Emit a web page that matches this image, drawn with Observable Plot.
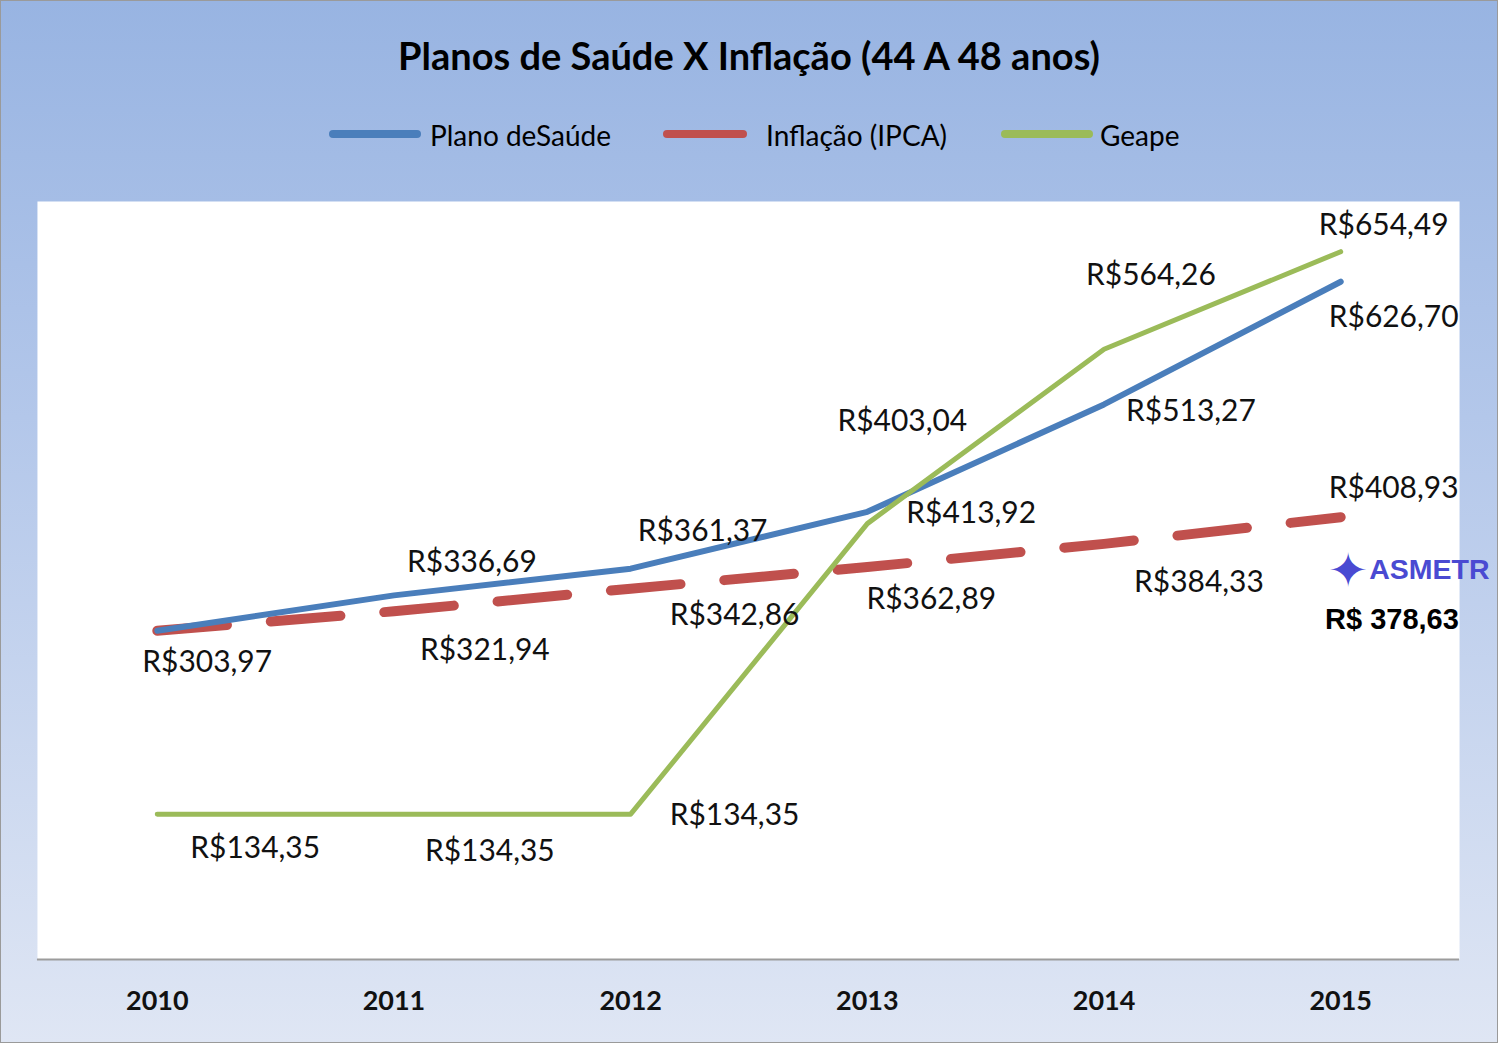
<!DOCTYPE html>
<html>
<head>
<meta charset="utf-8">
<script src="https://cdn.jsdelivr.net/npm/d3@7"></script>
<script src="https://cdn.jsdelivr.net/npm/@observablehq/plot@0.6"></script>
<style>
  html, body { margin: 0; padding: 0; background: #fff; }
  #chart {
    position: relative; box-sizing: border-box;
    width: 1498px; height: 1043px;
    border: 1px solid #9a9a9a;
    background: linear-gradient(to bottom, #98b4e2 0%, #b3c7ea 40%, #dfe6f4 100%);
    font-family: Lato, "Open Sans", sans-serif;
    overflow: hidden;
  }
  #title {
    position: absolute; left: 0; right: 0; top: 29px; line-height: 50px;
    text-align: center; font-weight: bold; font-size: 38px; color: #000;
  }
  .lg-line { position: absolute; height: 8px; border-radius: 4px; top: 129px; }
  .lg-text { position: absolute; top: 116px; line-height: 36px; font-size: 28px; color: #000; }
  #plot { position: absolute; left: -1px; top: 189px; }
  #logo { position: absolute; left: 1327px; top: 541px; font-family: "Liberation Sans", Arial, sans-serif; font-weight: bold; font-size: 28.5px; color: #4a4ad2; white-space: nowrap; }
  #logo .star { font-family: "DejaVu Sans"; font-size: 48px; vertical-align: -8px; margin-right: 1px; }
  #logoval { position: absolute; left: 1324px; top: 602px; font-family: "Liberation Sans", Arial, sans-serif; font-weight: bold; font-size: 29px; color: #000; }
</style>
</head>
<body>
<div id="chart">
  <div id="title"></div>
  <div id="legend"></div>
  <div id="plot"></div>
  <div id="logo"><span class="star">✦</span><span id="logotext"></span></div>
  <div id="logoval"></div>
</div>
<script>
const title = "Planos de Saúde X Inflação (44 A 48 anos)";
const years = ["2010", "2011", "2012", "2013", "2014", "2015"];
const seriesNames = ["Plano deSaúde", "Inflação (IPCA)", "Geape"];
const planoSaude = [303.97, 336.69, 361.37, 413.92, 513.27, 626.70];
const inflacao   = [303.97, 321.94, 342.86, 362.89, 384.33, 408.93];
const geape      = [134.35, 134.35, 134.35, 403.04, 564.26, 654.49];
const logoText = "ASMETR";
const logoValue = "R$ 378,63";

const colors = ["#4a7ebb", "#c0504d", "#9bbb59"];

// label offsets (pixels from point), null = no label
const planoOffsets = [null, [78, -33], [72, -37], [104, 2], [87, 7], [53, 36]];
const inflOffsets  = [[50, 32], [91, 39], [104, 27], [64, 32], [95, 39], [53, -29]];
const geapeOffsets = [[98, 34], [96, 37], [104, 1], [35, -102], [47, -74], [43, -26]];

document.getElementById("title").textContent = title;
document.getElementById("logotext").textContent = logoText;
document.getElementById("logoval").textContent = logoValue;

// Legend
const legend = document.getElementById("legend");
const lgPos = [[328, 92, 429], [662, 84, 765], [1000, 92, 1099]];
seriesNames.forEach((n, i) => {
  const l = document.createElement("div");
  l.className = "lg-line";
  l.style.left = lgPos[i][0] + "px"; l.style.width = lgPos[i][1] + "px";
  l.style.background = colors[i];
  legend.appendChild(l);
  const t = document.createElement("div");
  t.className = "lg-text"; t.style.left = lgPos[i][2] + "px";
  t.textContent = n;
  legend.appendChild(t);
});

const mk = (vals) => years.map((y, i) => ({year: y, value: vals[i]}));
const dPlano = mk(planoSaude), dInfl = mk(inflacao), dGeape = mk(geape);
const fmt = v => "R$" + v.toFixed(2).replace(".", ",");

const labelMarks = [];
[[dPlano, planoOffsets], [dInfl, inflOffsets], [dGeape, geapeOffsets]].forEach(([d, offs]) => {
  d.forEach((row, i) => {
    if (!offs[i]) return;
    labelMarks.push(Plot.text([row], {
      x: "year", y: "value", text: r => fmt(r.value),
      dx: offs[i][0], dy: offs[i][1],
      fontSize: 30, fill: "#111", textAnchor: "middle"
    }));
  });
});

const plot = Plot.plot({
  width: 1499, height: 853,
  marginTop: 12, marginBottom: 83, marginLeft: 37, marginRight: 38,
  style: {background: "transparent", fontFamily: "Lato, 'Open Sans', sans-serif", overflow: "visible"},
  x: {type: "point", domain: years, padding: 0.5, label: null},
  y: {domain: [0, 700], axis: null},
  marks: [
    Plot.frame({fill: "white", stroke: null, insetTop: -1}),
    Plot.ruleY([0], {stroke: "#9c9c9c", strokeWidth: 2}),
    Plot.axisX({tickSize: 0, tickPadding: 31, fontSize: 27, fontWeight: "bold", fill: "#111", label: null}),
    Plot.line(dInfl, {x: "year", y: "value", stroke: colors[1], strokeWidth: 10, strokeLinecap: "round", strokeDasharray: "70,44"}),
    Plot.line(dPlano, {x: "year", y: "value", stroke: colors[0], strokeWidth: 6, strokeLinecap: "round"}),
    Plot.line(dGeape, {x: "year", y: "value", stroke: colors[2], strokeWidth: 5, strokeLinecap: "round"}),
    ...labelMarks
  ]
});
document.getElementById("plot").appendChild(plot);
</script>
</body>
</html>
